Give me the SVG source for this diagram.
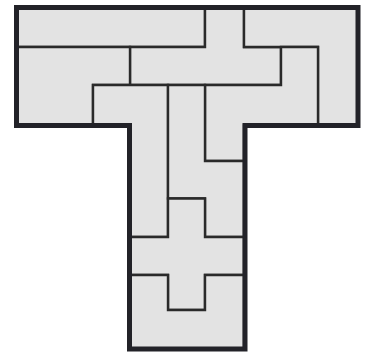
<svg xmlns="http://www.w3.org/2000/svg" width="367" height="353" viewBox="0 0 367 353">
<style>
.p{fill:#e3e3e3;stroke:#2a2a2a;stroke-width:2.4;stroke-linejoin:miter}
.o{fill:none;stroke:#222228;stroke-width:5;stroke-linejoin:miter}
</style>
<rect width="367" height="353" fill="#ffffff"/>
<g id="piece-I"><polygon class="p" points="16.5,7.5 205,7.5 205,47 16.5,47"/></g>
<g id="piece-Y"><polygon class="p" points="205,7.5 244,7.5 244,47 281,47 281,85 130,85 130,47 205,47"/></g>
<g id="piece-V"><polygon class="p" points="244,7.5 358,7.5 358,125.5 318,125.5 318,47 244,47"/></g>
<g id="piece-Z"><polygon class="p" points="281,47 318,47 318,125.5 244,125.5 244,161 205,161 205,85 281,85"/></g>
<g id="piece-P"><polygon class="p" points="16.5,47 130,47 130,85 93,85 93,125.5 16.5,125.5"/></g>
<g id="piece-L"><polygon class="p" points="93,85 168,85 168,237 130,237 130,125.5 93,125.5"/></g>
<g id="piece-N"><polygon class="p" points="168,85 205,85 205,161 244,161 244,237 205,237 205,198.5 168,198.5"/></g>
<g id="piece-X"><polygon class="p" points="168,198.5 205,198.5 205,237 244,237 244,275 205,275 205,310 168,310 168,275 130,275 130,237 168,237"/></g>
<g id="piece-U"><polygon class="p" points="130,275 168,275 168,310 205,310 205,275 244,275 244,349 130,349"/></g>
<g id="outline"><polygon class="o" points="16.5,7.5 358,7.5 358,125.5 245,125.5 245,349 129.5,349 129.5,125.5 16.5,125.5"/></g>
<g id="connectors"/>
</svg>
